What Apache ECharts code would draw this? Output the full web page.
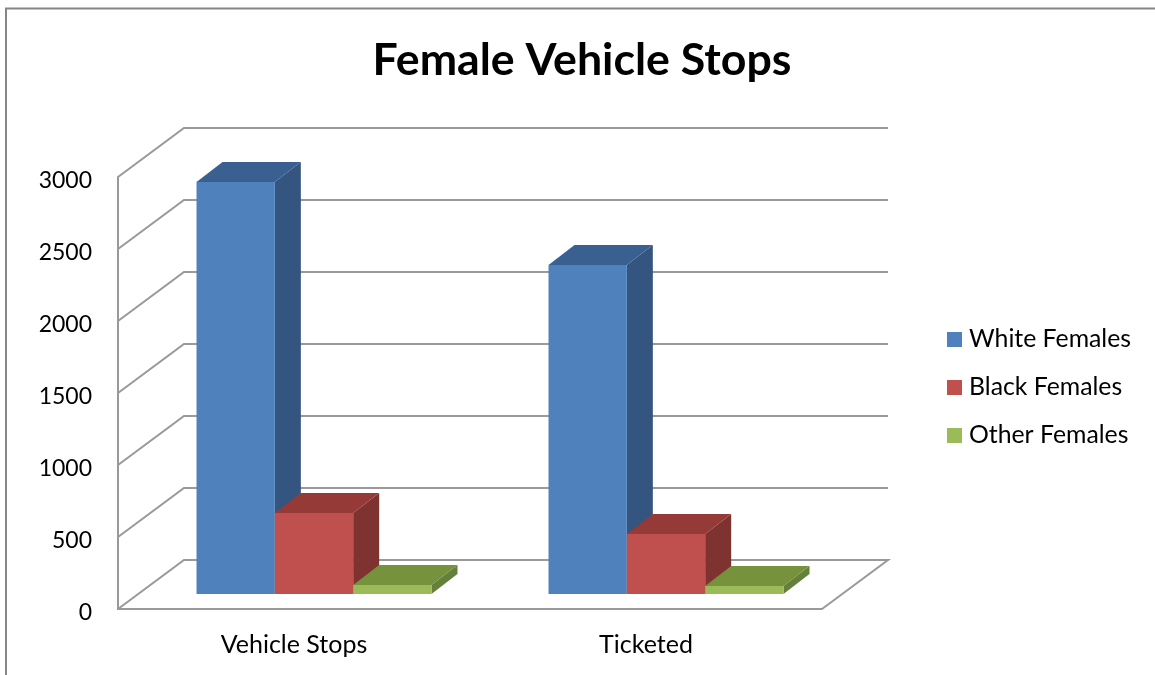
<!DOCTYPE html>
<html>
<head>
<meta charset="utf-8">
<style>html,body{margin:0;padding:0;background:#fff}#c{width:1155px;height:675px}</style>
<script src="https://cdn.jsdelivr.net/npm/echarts@6/dist/echarts.min.js"></script>
</head>
<body>
<div id="c"></div>
<script>
const categories = ['Vehicle Stops', 'Ticketed'];
const whiteFemales = [2861, 2285];
const blackFemales = [563, 417];
const otherFemales = [63, 56];
const yTicks = [0, 500, 1000, 1500, 2000, 2500, 3000];
const seriesNames = ['White Females', 'Black Females', 'Other Females'];
const faceColors = ['#4f81bd', '#c0504d', '#9bbb59'];
const sideColors = ['#34557f', '#7f3331', '#65803a'];
const topColors = ['#3a6092', '#953a37', '#76923c'];

const FONT = 'Lato, "Open Sans", sans-serif';
const GRID_COLOR = '#999999';
const WALL_DX = 66, WALL_DY = -49;
const BAR_OFFSET_DX = 20, BAR_OFFSET_DY = -15;
const BAR_DX = 26, BAR_DY = -20;
const BAR_FRAC = 0.2225;

function wallItem(params, api) {
  const p = api.coord([0, api.value(0)]);
  const cs = params.coordSys;
  const x0 = cs.x, y = p[1];
  const xBackEnd = cs.x + cs.width + WALL_DX;
  const isBase = api.value(0) === 0;
  const pts = [[x0, y], [x0 + WALL_DX, y + WALL_DY], [xBackEnd, y + WALL_DY]];
  if (isBase) pts.push([cs.x + cs.width, y]);
  return {
    type: 'polyline',
    shape: { points: pts },
    style: { stroke: GRID_COLOR, lineWidth: 2, fill: null }
  };
}

function barRenderer(idx) {
  return function (params, api) {
    const cat = api.value(0), val = api.value(1);
    const top = api.coord([cat, val]);
    const base = api.coord([cat, 0]);
    const w = api.size([1, 0])[0] * BAR_FRAC;
    const cx = base[0] + BAR_OFFSET_DX + (idx - 1) * w;
    const l = cx - w / 2, r = cx + w / 2;
    const yb = base[1] + BAR_OFFSET_DY, yt = top[1] + BAR_OFFSET_DY;
    return {
      type: 'group',
      children: [
        { type: 'polygon', shape: { points: [[r, yt], [r + BAR_DX, yt + BAR_DY], [r + BAR_DX, yb + BAR_DY], [r, yb]] },
          style: { fill: sideColors[idx] } },
        { type: 'polygon', shape: { points: [[l, yt], [l + BAR_DX, yt + BAR_DY], [r + BAR_DX, yt + BAR_DY], [r, yt]] },
          style: { fill: topColors[idx] } },
        { type: 'rect', shape: { x: l, y: yt, width: w, height: yb - yt },
          style: { fill: faceColors[idx] } }
      ]
    };
  };
}

const toPairs = arr => arr.map((v, i) => [i, v]);
const barData = [whiteFemales, blackFemales, otherFemales];

const chart = echarts.init(document.getElementById('c'), null, { renderer: 'canvas' });
chart.setOption({
  animation: false,
  backgroundColor: '#ffffff',
  title: {
    text: 'Female Vehicle Stops',
    left: 577, top: 33, textAlign: 'center',
    textStyle: { fontFamily: FONT, fontSize: 44.7, fontWeight: 'bold', color: '#000' }
  },
  legend: {
    data: seriesNames.map(n => ({ name: n, icon: 'rect' })),
    orient: 'vertical',
    left: 947, top: 327,
    itemWidth: 15, itemHeight: 15, itemGap: 23, padding: 0,
    textStyle: { fontFamily: FONT, fontSize: 24.8, color: '#000', padding: [0, 0, 0, 2] },
    selectedMode: false
  },
  graphic: [{
    type: 'polyline',
    shape: { points: [[6, 675], [6, 8.5], [1155, 8.5]] },
    style: { stroke: '#868686', lineWidth: 2, fill: null },
    silent: true
  }],
  grid: { left: 118, top: 177, width: 704, height: 432 },
  xAxis: {
    type: 'category',
    data: categories,
    axisTick: { show: false },
    axisLine: { show: true, lineStyle: { color: GRID_COLOR, width: 2 } },
    axisLabel: { fontFamily: FONT, fontSize: 25, color: '#000', margin: 23 }
  },
  yAxis: {
    type: 'value',
    min: 0, max: 3000, interval: 500,
    axisTick: { show: false },
    axisLine: { show: true, lineStyle: { color: GRID_COLOR, width: 2 } },
    splitLine: { show: false },
    axisLabel: { fontFamily: FONT, fontSize: 23, color: '#000', margin: 26, verticalAlign: 'top', lineHeight: 8, formatter: v => String(v) }
  },
  series: [
    { type: 'custom', name: 'wall', data: yTicks.map(v => [v]), renderItem: wallItem, encode: { y: 0 }, silent: true, clip: false, z: 1 }
  ].concat(seriesNames.map((name, i) => ({
    type: 'custom',
    name,
    data: toPairs(barData[i]),
    encode: { x: 0, y: 1 },
    itemStyle: { color: faceColors[i] },
    renderItem: barRenderer(i),
    clip: false,
    z: 2 + i
  })))
});
</script>
</body>
</html>
